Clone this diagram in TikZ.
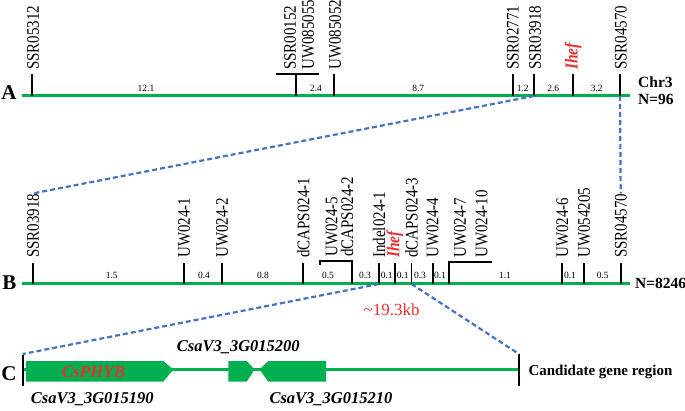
\documentclass[tikz,border=0pt]{standalone}
\usepackage{fontspec}
\setmainfont{Liberation Serif}
\definecolor{gr}{RGB}{0,176,80}
\definecolor{bl}{RGB}{68,114,196}
\definecolor{rd}{RGB}{228,48,48}
\newcommand{\wide}[1]{\scalebox{1}[1.18]{#1}}
\begin{document}
\begin{tikzpicture}[x=1pt,y=-1pt,
  chrom/.style={draw=gr, line width=3pt},
  tk/.style={draw=black, line width=1.9pt},
  lab/.style={rotate=90, anchor=west, inner sep=0pt, font=\fontsize{15}{15}\selectfont},
  redlab/.style={lab, text=rd, font=\fontsize{15.5}{15.5}\selectfont\bfseries\itshape},
  dist/.style={inner sep=0pt, font=\fontsize{9.5}{9.5}\selectfont},
  conn/.style={draw=bl, dash pattern=on 5pt off 3pt, line width=2.2pt},
  big/.style={inner sep=0pt, font=\fontsize{21}{21}\selectfont\bfseries},
  bold/.style={inner sep=0pt, anchor=west, font=\fontsize{15.5}{15.5}\selectfont\bfseries},
  gene/.style={fill=gr, draw=none},
  gname/.style={inner sep=0pt, anchor=west, font=\fontsize{16.5}{16.5}\selectfont\bfseries\itshape}]
\useasboundingbox (0,0) rectangle (685,411);

% ---------------- A ----------------
\coordinate (aL) at (22,96);
\coordinate (aR) at (630,96);
\draw[chrom] (aL) -- (aR);
\foreach \n/\x in {a1/32, a2/296, a3/334, a4/512.7, a5/534, a6/572.7, a7/620}
  \coordinate (\n) at (\x,96);
\foreach \n in {a1,a3,a4,a5,a6,a7}
  \draw[tk] (\n) -- ++(0,-22);
\draw[tk] (a2) -- ++(0,-22);
\draw[tk] (276,74) -- (319,74);

\node[lab] (la1) at (33,70) {\wide{SSR05312}};
\node[lab] (la2) at (290,70) {\wide{SSR00152}};
\node[lab] (la3) at (308,70) {\wide{UW085055}};
\node[lab] (la4) at (335,70) {\wide{UW085052}};
\node[lab] (la5) at (512.7,70) {\wide{SSR02771}};
\node[lab] (la6) at (535,70) {\wide{SSR03918}};
\node[redlab] (la7) at (573,70) {\wide{Ihef}};
\node[lab] (la8) at (620.7,70) {\wide{SSR04570}};

\node[dist] (da1) at (146,88) {12.1};
\node[dist] (da2) at (316,88) {2.4};
\node[dist] (da3) at (418.3,88) {8.7};
\node[dist] (da4) at (522.7,88) {1.2};
\node[dist] (da5) at (553.3,88) {2.6};
\node[dist] (da6) at (596.7,88) {3.2};

\node[big] (A) at (9,93) {A};
\node[bold] (chr) at (638,82) {Chr3};
\node[bold] (na) at (638,99.5) {N=96};

% ---------------- B ----------------
\coordinate (bL) at (22,284);
\coordinate (bR) at (630,284);
\draw[chrom] (bL) -- (bR);
\foreach \n/\x in {b1/33, b2/184, b3/222, b4/303.3, b5/351.7, b6/379, b7/395, b8/411.5, b9/432.7, b10/449.3, b11/562.3, b12/584, b13/620.7}
  \coordinate (\n) at (\x,284);
\foreach \n in {b1,b2,b3,b4,b6,b7,b8,b9,b11,b12,b13}
  \draw[tk] (\n) -- ++(0,-21);
\draw[tk] (b5) -- ++(0,-23) -- (320,261) -- (320,265.5);
\draw[tk] (b10) -- ++(0,-22) -- (491.7,262);

\node[lab] (lb1) at (33,258) {\wide{SSR03918}};
\node[lab] (lb2) at (184,258) {\wide{UW024-1}};
\node[lab] (lb3) at (222,258) {\wide{UW024-2}};
\node[lab] (lb4) at (303.3,258) {\wide{dCAPS024-1}};
\node[lab] (lb5) at (331.7,257) {\wide{UW024-5}};
\node[lab] (lb6) at (347,257) {\wide{dCAPS024-2}};
\node[lab] (lb7) at (379,258) {\wide{Indel024-1}};
\node[redlab] (lb8) at (395,258) {\wide{Ihef}};
\node[lab] (lb9) at (411.5,258) {\wide{dCAPS024-3}};
\node[lab] (lb10) at (432.7,258) {\wide{UW024-4}};
\node[lab] (lb11) at (460,258) {\wide{UW024-7}};
\node[lab] (lb12) at (481.7,258) {\wide{UW024-10}};
\node[lab] (lb13) at (562.3,258) {\wide{UW024-6}};
\node[lab] (lb14) at (584,258) {\wide{UW054205}};
\node[lab] (lb15) at (620.7,258) {\wide{SSR04570}};

\node[dist] (db1) at (111.7,275) {1.5};
\node[dist] (db2) at (204,275) {0.4};
\node[dist] (db3) at (263,275) {0.8};
\node[dist] (db4) at (328,275) {0.5};
\node[dist] (db5) at (365,275) {0.3};
\node[dist] (db6) at (386.7,275) {0.1};
\node[dist] (db7) at (402.7,275) {0.1};
\node[dist] (db8) at (420,275) {0.3};
\node[dist] (db9) at (440,275) {0.1};
\node[dist] (db10) at (505,275) {1.1};
\node[dist] (db11) at (570,275) {0.1};
\node[dist] (db12) at (602.7,275) {0.5};

\node[big] (B) at (9.5,283) {B};
\node[bold] (nb) at (635,283) {N=8246};

\node[inner sep=0pt, text=rd, font=\fontsize{17}{17}\selectfont] (kb) at (391.7,309.3) {{\char"7E}19.3kb};

% ---------------- C ----------------
\coordinate (cL) at (22.7,369.5);
\coordinate (cR) at (519,369.5);
\coordinate (cLt) at (22.7,354);
\coordinate (cRt) at (519,354);
\draw[chrom] (cL) -- (cR);
\draw[tk, line width=2.2pt] (22.7,355) -- (22.7,386);
\draw[tk, line width=2.2pt] (519,354) -- (519,386);

\fill[gene] (26,361) -- (163.3,361) -- (173.3,369.5) -- (163.3,381.7) -- (26,381.7) -- cycle;
\fill[gene] (228.3,361) -- (246.7,361) -- (254.5,369.5) -- (246.7,381.7) -- (228.3,381.7) -- cycle;
\fill[gene] (259.5,369.5) -- (268.3,361) -- (326,361) -- (326,381.7) -- (268.3,381.7) -- cycle;

\node[inner sep=0pt, text=rd, font=\fontsize{17}{17}\selectfont\bfseries\itshape] (phyb) at (93.5,371.7) {CsPHYB};
\node[gname] (g2) at (176.7,346.7) {CsaV3\_3G015200};
\node[gname] (g1) at (30.7,399.3) {CsaV3\_3G015190};
\node[gname] (g3) at (269.3,399.3) {CsaV3\_3G015210};
\node[inner sep=0pt, anchor=west, font=\fontsize{15}{15}\selectfont\bfseries] (cand) at (528.3,371.7) {Candidate gene region};
\node[big] (C) at (9,374) {C};

% ---------------- connectors ----------------
\draw[conn] (a5) -- (lb1.east);
\draw[conn] (a7) -- (lb15.east);
\draw[conn] (b6) -- (cLt);
\draw[conn] (b8) -- (cRt);
\end{tikzpicture}
\end{document}
